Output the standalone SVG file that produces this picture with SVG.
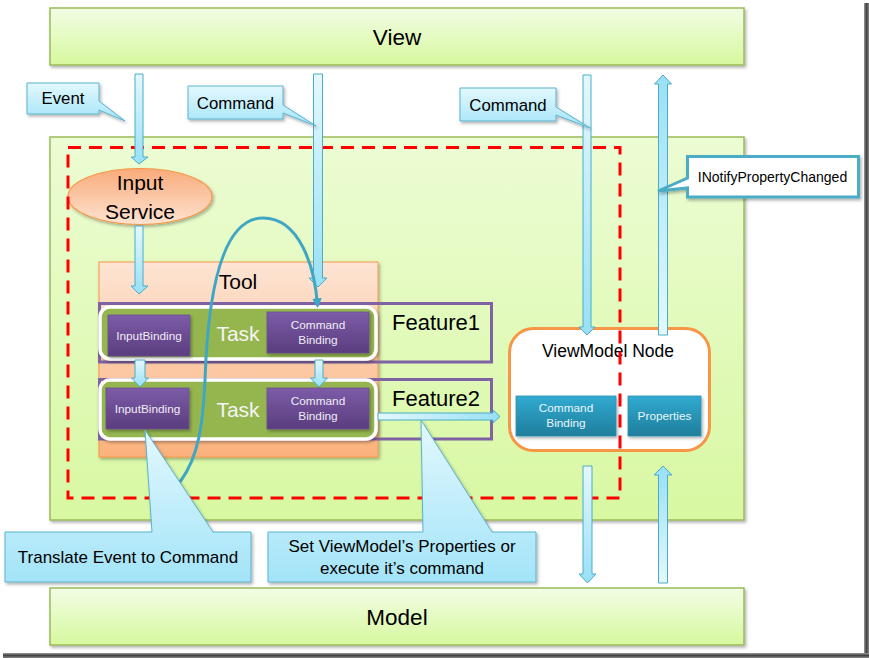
<svg xmlns="http://www.w3.org/2000/svg" width="869" height="658" viewBox="0 0 869 658">
<defs>
  <linearGradient id="gGreen" x1="0" y1="0" x2="0" y2="1">
    <stop offset="0" stop-color="#f3fde5"/>
    <stop offset="1" stop-color="#d6f89e"/>
  </linearGradient>
  <linearGradient id="gOuter" x1="0" y1="0" x2="0" y2="1">
    <stop offset="0" stop-color="#ecfcd4"/>
    <stop offset="1" stop-color="#d8f8a2"/>
  </linearGradient>
  <linearGradient id="gCallout" x1="0" y1="0" x2="0" y2="1">
    <stop offset="0" stop-color="#e3f8fe"/>
    <stop offset="1" stop-color="#a3e4f8"/>
  </linearGradient>
  <linearGradient id="gArrowDown" x1="0" y1="0" x2="0" y2="1">
    <stop offset="0" stop-color="#e4f8fe"/>
    <stop offset="1" stop-color="#98e0f6"/>
  </linearGradient>
  <linearGradient id="gArrowUp" x1="0" y1="1" x2="0" y2="0">
    <stop offset="0" stop-color="#e4f8fe"/>
    <stop offset="1" stop-color="#98e0f6"/>
  </linearGradient>
  <linearGradient id="gArrowRight" x1="0" y1="0" x2="1" y2="0">
    <stop offset="0" stop-color="#e4f8fe"/>
    <stop offset="1" stop-color="#98e0f6"/>
  </linearGradient>
  <linearGradient id="gOrange" x1="0" y1="0" x2="0" y2="1">
    <stop offset="0" stop-color="#f9ab7a"/>
    <stop offset="1" stop-color="#fde3d2"/>
  </linearGradient>
  <linearGradient id="gTool" x1="0" y1="0" x2="0" y2="1">
    <stop offset="0" stop-color="#fde4d4"/>
    <stop offset="1" stop-color="#fbb27c"/>
  </linearGradient>
  <linearGradient id="gPurple" x1="0" y1="0" x2="0" y2="1">
    <stop offset="0" stop-color="#7d5ca8"/>
    <stop offset="1" stop-color="#5a3d7e"/>
  </linearGradient>
  <linearGradient id="gBlue" x1="0" y1="0" x2="0" y2="1">
    <stop offset="0" stop-color="#31aad0"/>
    <stop offset="1" stop-color="#1f7e9c"/>
  </linearGradient>
  <linearGradient id="gFrameR" x1="0" y1="0" x2="1" y2="0">
    <stop offset="0" stop-color="#9a9a9a"/>
    <stop offset="0.5" stop-color="#444"/>
    <stop offset="1" stop-color="#888"/>
  </linearGradient>
  <linearGradient id="gFrameB" x1="0" y1="0" x2="0" y2="1">
    <stop offset="0" stop-color="#9a9a9a"/>
    <stop offset="0.5" stop-color="#444"/>
    <stop offset="1" stop-color="#888"/>
  </linearGradient>
  <filter id="shadow" x="-5%" y="-5%" width="110%" height="120%">
    <feDropShadow dx="1.5" dy="2" stdDeviation="1.5" flood-color="#000" flood-opacity="0.3"/>
  </filter>
  <marker id="tealHead" viewBox="0 0 10 10" refX="8" refY="5" markerWidth="3.2" markerHeight="3.2" orient="auto" markerUnits="strokeWidth">
    <path d="M0,0 L10,5 L0,10 Z" fill="#3fa6c4"/>
  </marker>
  <style>
    text { font-family: "Liberation Sans", Arial, sans-serif; fill: #000; }
    .box { stroke: #9bbb59; stroke-width: 1.5; }
    .callout { fill: url(#gCallout); stroke: #5bb3cd; stroke-width: 1; filter: url(#shadow); }
    .arrD { fill: url(#gArrowDown); stroke: #4bacc6; stroke-width: 1; }
    .arrU { fill: url(#gArrowUp); stroke: #4bacc6; stroke-width: 1; }
    .arrR { fill: url(#gArrowRight); stroke: #4bacc6; stroke-width: 1; }
    .feature { fill: none; stroke: #7f62a3; stroke-width: 3; }
    .task { fill: #95b650; stroke: #ffffff; stroke-width: 3.5; filter: url(#shadow); }
    .pbox { fill: url(#gPurple); stroke: #6a4e92; stroke-width: 0.8; filter: url(#shadow); }
    .bbox { fill: url(#gBlue); stroke: #2a93b3; stroke-width: 0.8; filter: url(#shadow); }
    .small { font-size: 11.8px; fill: #f0ecf6; text-anchor: middle; }
    .c16 { font-size: 16.8px; }
    .c17 { font-size: 17px; }
    .mid { text-anchor: middle; }
  </style>
</defs>

<rect x="0" y="0" width="869" height="658" fill="#ffffff"/>
<rect x="864" y="3" width="5" height="655" fill="url(#gFrameR)"/>
<rect x="3" y="653" width="866" height="5" fill="url(#gFrameB)"/>

<g id="view">
  <rect class="box" x="50" y="8" width="694" height="57" fill="url(#gGreen)" filter="url(#shadow)"/>
  <text x="397" y="45" font-size="22.5" class="mid">View</text>
</g>

<g id="viewmodel-area">
  <rect class="box" x="50" y="137" width="694" height="383" fill="url(#gOuter)" filter="url(#shadow)"/>
</g>

<g id="model">
  <rect class="box" x="50" y="588" width="694" height="57" fill="url(#gGreen)" filter="url(#shadow)"/>
  <text x="397" y="625" font-size="22.5" class="mid">Model</text>
</g>

<g id="input-service">
  <ellipse cx="140" cy="196.5" rx="72" ry="28" fill="url(#gOrange)" stroke="#f79646" stroke-width="1.2" filter="url(#shadow)"/>
  <text x="140" y="190" font-size="21" class="mid">Input</text>
  <text x="140" y="219" font-size="21" class="mid">Service</text>
</g>

<g id="tool">
  <rect x="99" y="262" width="279" height="195" fill="url(#gTool)" stroke="#f79646" stroke-width="1" filter="url(#shadow)"/>
  <text x="238" y="289" font-size="21" class="mid">Tool</text>
</g>

<g id="feature1">
  <rect class="feature" x="99.5" y="303.5" width="392" height="58.5"/>
  <text x="392" y="330" font-size="22">Feature1</text>
</g>
<g id="feature2">
  <rect class="feature" x="99.5" y="379.5" width="392" height="59.5"/>
  <text x="392" y="406" font-size="22">Feature2</text>
</g>

<g id="task1">
  <rect class="task" x="100" y="307" width="276" height="52" rx="10"/>
  <text x="238" y="341" font-size="21" class="mid" style="fill:#f4f4f4">Task</text>
</g>
<g id="task2">
  <rect class="task" x="100" y="380" width="276" height="59" rx="10"/>
  <text x="238" y="417" font-size="21" class="mid" style="fill:#f4f4f4">Task</text>
</g>

<g id="inputbinding1">
  <rect class="pbox" x="108" y="315" width="82" height="41"/>
  <text x="149" y="339.5" class="small">InputBinding</text>
</g>
<g id="commandbinding1">
  <rect class="pbox" x="267" y="312" width="102" height="41"/>
  <text x="318" y="329" class="small">Command</text>
  <text x="318" y="344" class="small">Binding</text>
</g>
<g id="inputbinding2">
  <rect class="pbox" x="106" y="388" width="83" height="41"/>
  <text x="147.5" y="412.5" class="small">InputBinding</text>
</g>
<g id="commandbinding2">
  <rect class="pbox" x="267" y="388" width="102" height="41"/>
  <text x="318" y="405" class="small">Command</text>
  <text x="318" y="420" class="small">Binding</text>
</g>

<g id="viewmodel-node">
  <rect x="509.5" y="328.5" width="200" height="122" rx="24" fill="#ffffff" stroke="#f79646" stroke-width="3"/>
  <text x="608" y="357" font-size="17.5" class="mid">ViewModel Node</text>
  <rect class="bbox" x="516" y="396" width="100" height="40"/>
  <text x="566" y="412" class="small" style="fill:#e8f6fb">Command</text>
  <text x="566" y="427" class="small" style="fill:#e8f6fb">Binding</text>
  <rect class="bbox" x="628" y="396" width="73" height="40"/>
  <text x="664.5" y="420" class="small" style="fill:#e8f6fb">Properties</text>
</g>

<g id="boundary">
  <rect x="68" y="147.5" width="552" height="350.5" fill="none" stroke="#ff0000" stroke-width="3" stroke-dasharray="13 8"/>
</g>

<g id="connectors">
  <polygon class="arrD" points="135,74 143,74 143,157 148,157 139,164 131,157 135,157"/>
  <polygon class="arrD" points="313.5,74 322.5,74 322.5,278 327,278 318,287 309,278 313.5,278"/>
  <polygon class="arrD" points="135,226 143,226 143,286 148,286 139,294 131,286 135,286"/>
  <polygon class="arrD" points="135,360 145,360 145,378 148.5,378 140,387 131.5,378 135,378"/>
  <polygon class="arrD" points="315,360 323,360 323,378 327.5,378 319,387 310.5,378 315,378"/>
  <polygon class="arrD" points="583,75 591,75 591,327 595,327 587,335 579,327 583,327"/>
  <polygon class="arrU" points="658.5,335 667.5,335 667.5,84 671.5,84 663,75 654.5,84 658.5,84"/>
  <polygon class="arrD" points="583,466 592,466 592,574 596,574 587.5,583 579,574 583,574"/>
  <polygon class="arrU" points="658.5,583 667.5,583 667.5,475 672,475 663,466 654,475 658.5,475"/>
  <polygon class="arrR" points="378,413 493,413 493,410 500,416.5 493,423 493,420 378,420"/>
  <path d="M 180 482 C 200 455, 203 420, 205 380 C 207 320, 215 218, 263 218 C 300 218, 315 268, 317.5 306" fill="none" stroke="#3fa6c4" stroke-width="3" marker-end="url(#tealHead)"/>
</g>

<g id="callout-event">
  <path class="callout" d="M27,83 H99 V101 L125,121 L99,110 V114 H27 Z"/>
  <text x="63" y="104" class="c16 mid">Event</text>
</g>
<g id="callout-command1">
  <path class="callout" d="M188,86 H283 V105 L316,126 L283,113 V119 H188 Z"/>
  <text x="235.5" y="108.5" class="c16 mid">Command</text>
</g>
<g id="callout-command2">
  <path class="callout" d="M460,88 H556 V107 L590,128 L556,115 V121 H460 Z"/>
  <text x="508" y="110.5" class="c16 mid">Command</text>
</g>
<g id="callout-inotify">
  <path d="M687.5,156.5 H858.5 V197 H687.5 V188 L658,191 L687.5,178 Z" fill="#ffffff" stroke="#4bacc6" stroke-width="3" filter="url(#shadow)"/>
  <text x="772.5" y="182" font-size="14" class="mid">INotifyPropertyChanged</text>
</g>
<g id="callout-translate">
  <path class="callout" d="M5,532 H152 L145,430 L213,532 H251 V582 H5 Z"/>
  <text x="128" y="562.5" class="c17 mid">Translate Event to Command</text>
</g>
<g id="callout-set">
  <path class="callout" d="M268,532 H423 L421,420 L492,532 H536 V582 H268 Z"/>
  <text x="402" y="551.5" class="c17 mid">Set ViewModel’s Properties or</text>
  <text x="402" y="574" class="c17 mid">execute  it’s command</text>
</g>
</svg>
